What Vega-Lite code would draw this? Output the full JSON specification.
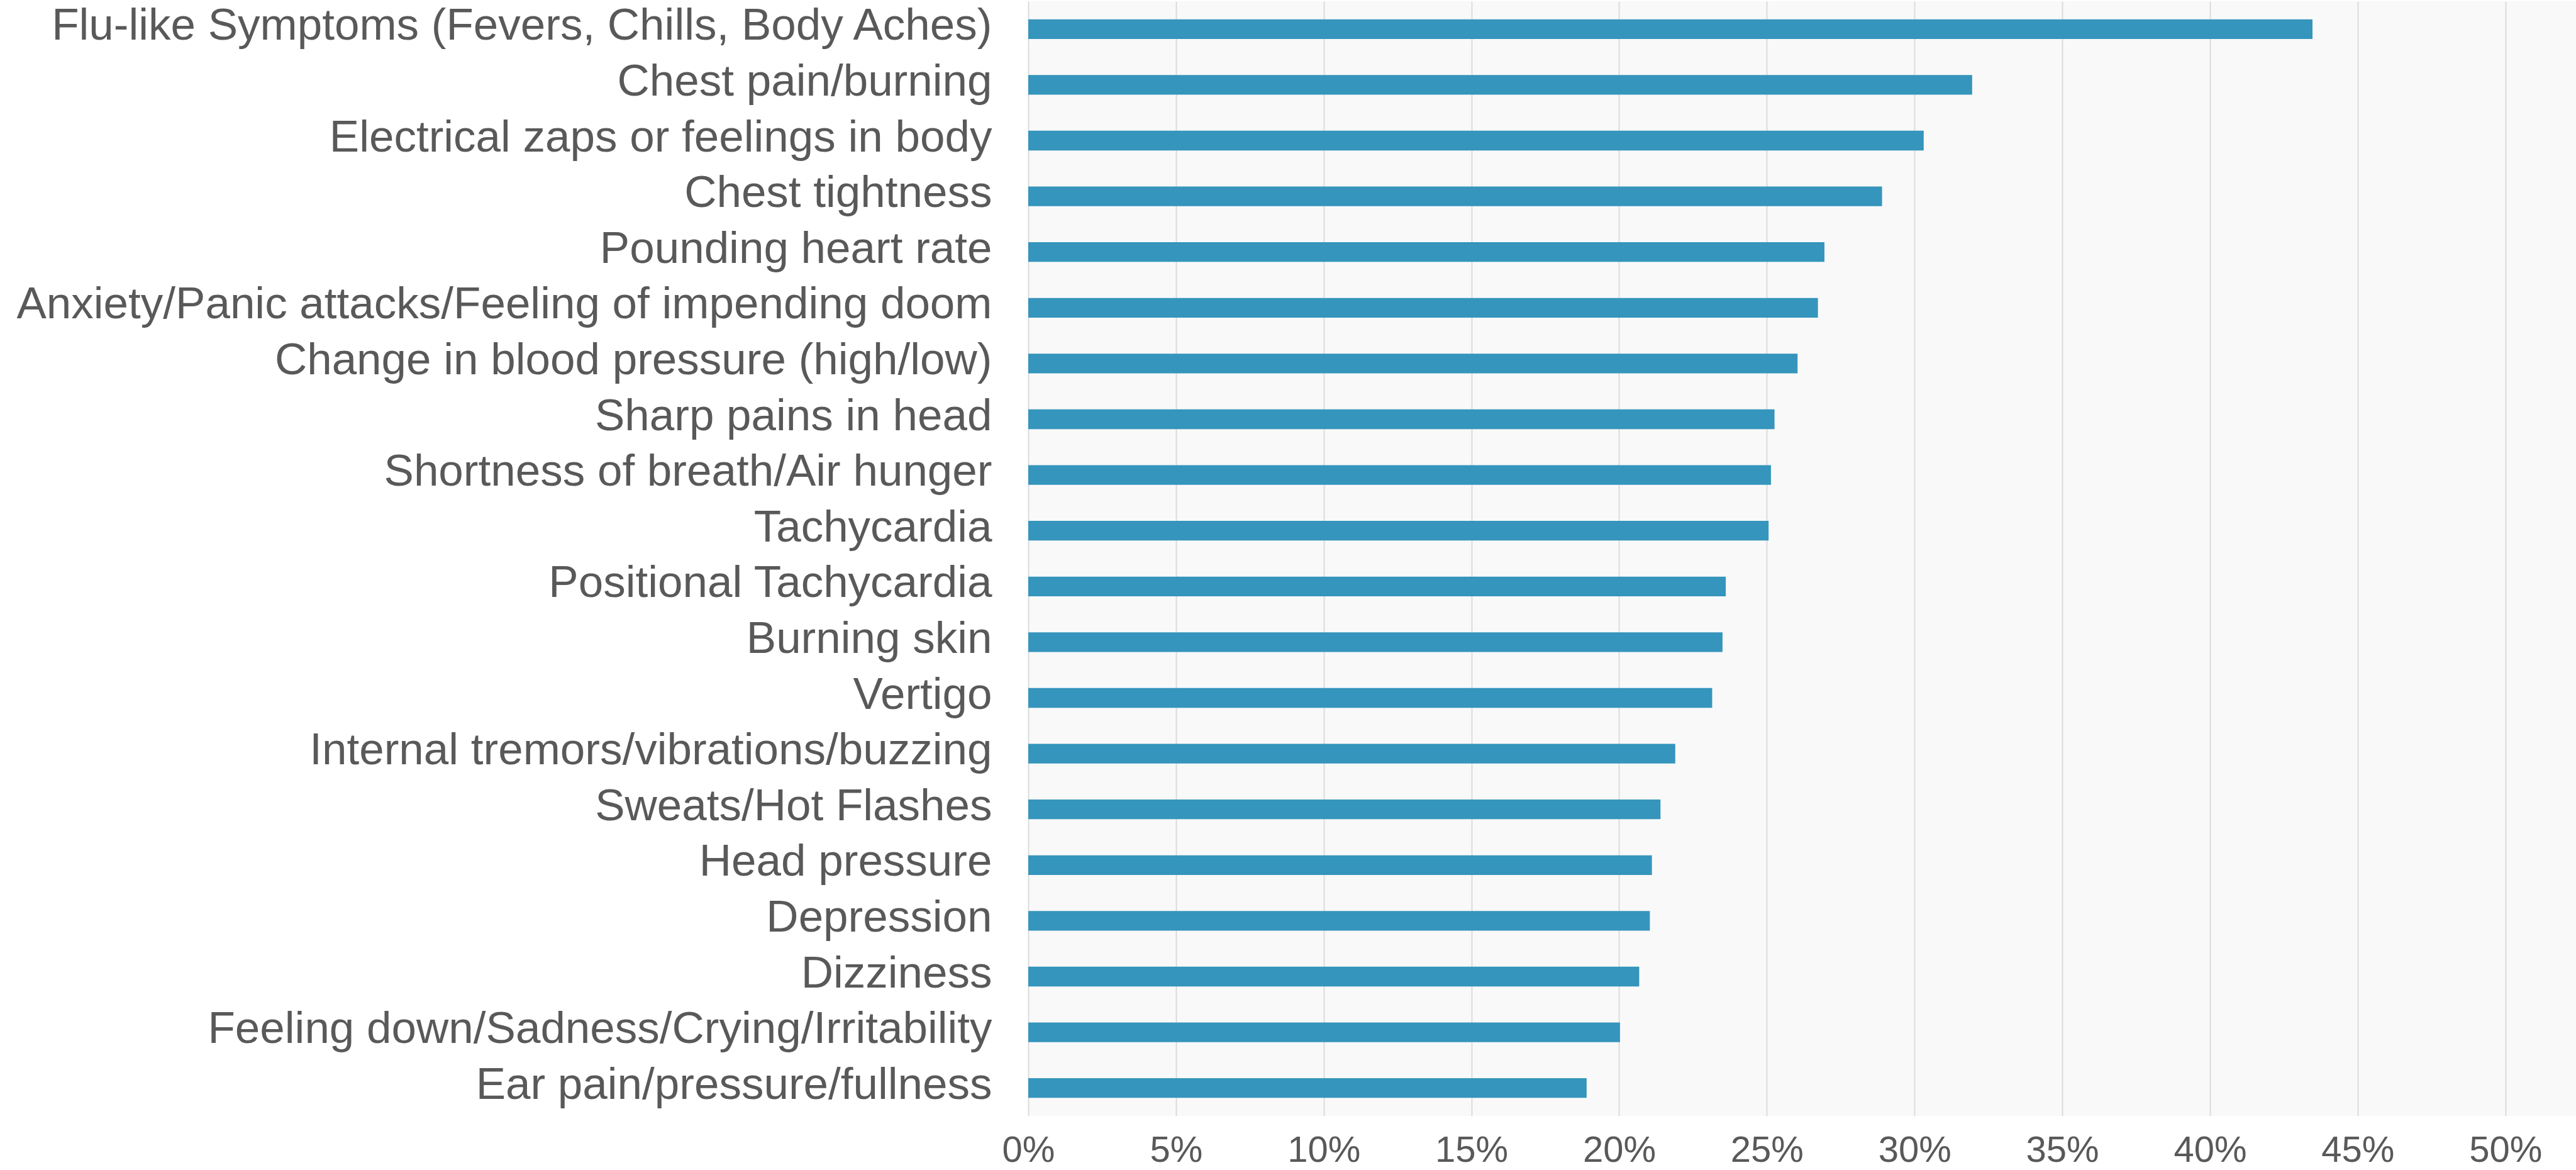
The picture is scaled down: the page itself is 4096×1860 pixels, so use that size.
{
  "$schema": "https://vega.github.io/schema/vega-lite/v6.json",
  "autosize": "none",
  "width": 2461,
  "height": 1772,
  "padding": {"left": 1635, "top": 2, "right": 0, "bottom": 86},
  "background": "#ffffff",
  "view": {"fill": "#f9f9f9", "stroke": null},
  "data": {
    "values": [
      {"symptom": "Flu-like Symptoms (Fevers, Chills, Body Aches)", "pct": 0.4347},
      {"symptom": "Chest pain/burning", "pct": 0.3195},
      {"symptom": "Electrical zaps or feelings in body", "pct": 0.3031},
      {"symptom": "Chest tightness", "pct": 0.289},
      {"symptom": "Pounding heart rate", "pct": 0.2695},
      {"symptom": "Anxiety/Panic attacks/Feeling of impending doom", "pct": 0.2673},
      {"symptom": "Change in blood pressure (high/low)", "pct": 0.2604},
      {"symptom": "Sharp pains in head", "pct": 0.2526},
      {"symptom": "Shortness of breath/Air hunger", "pct": 0.2514},
      {"symptom": "Tachycardia", "pct": 0.2506},
      {"symptom": "Positional Tachycardia", "pct": 0.2361},
      {"symptom": "Burning skin", "pct": 0.235},
      {"symptom": "Vertigo", "pct": 0.2315},
      {"symptom": "Internal tremors/vibrations/buzzing", "pct": 0.219},
      {"symptom": "Sweats/Hot Flashes", "pct": 0.214},
      {"symptom": "Head pressure", "pct": 0.2111},
      {"symptom": "Depression", "pct": 0.2104},
      {"symptom": "Dizziness", "pct": 0.2068},
      {"symptom": "Feeling down/Sadness/Crying/Irritability", "pct": 0.2003},
      {"symptom": "Ear pain/pressure/fullness", "pct": 0.189}
    ]
  },
  "mark": {"type": "bar", "color": "#3595bc"},
  "encoding": {
    "y": {
      "field": "symptom",
      "type": "nominal",
      "sort": null,
      "scale": {"paddingInner": 0.647, "paddingOuter": 0.3235},
      "axis": {
        "title": null,
        "domain": false,
        "ticks": false,
        "tickSize": 0,
        "grid": false,
        "labelFont": "Liberation Sans",
        "labelFontSize": 71,
        "labelColor": "#595959",
        "labelPadding": 58,
        "labelOffset": -4,
        "labelLimit": 3000
      }
    },
    "x": {
      "field": "pct",
      "type": "quantitative",
      "scale": {"domain": [0, 0.5239], "nice": false, "zero": true},
      "axis": {
        "title": null,
        "values": [0, 0.05, 0.1, 0.15, 0.2, 0.25, 0.3, 0.35, 0.4, 0.45, 0.5],
        "format": ".0%",
        "domain": false,
        "ticks": false,
        "tickSize": 0,
        "grid": true,
        "gridColor": "#d9d9d9",
        "gridWidth": 1.8,
        "labelFont": "Liberation Sans",
        "labelFontSize": 58,
        "labelColor": "#595959",
        "labelPadding": 26,
        "labelFlush": false,
        "labelOverlap": false
      }
    }
  }
}
